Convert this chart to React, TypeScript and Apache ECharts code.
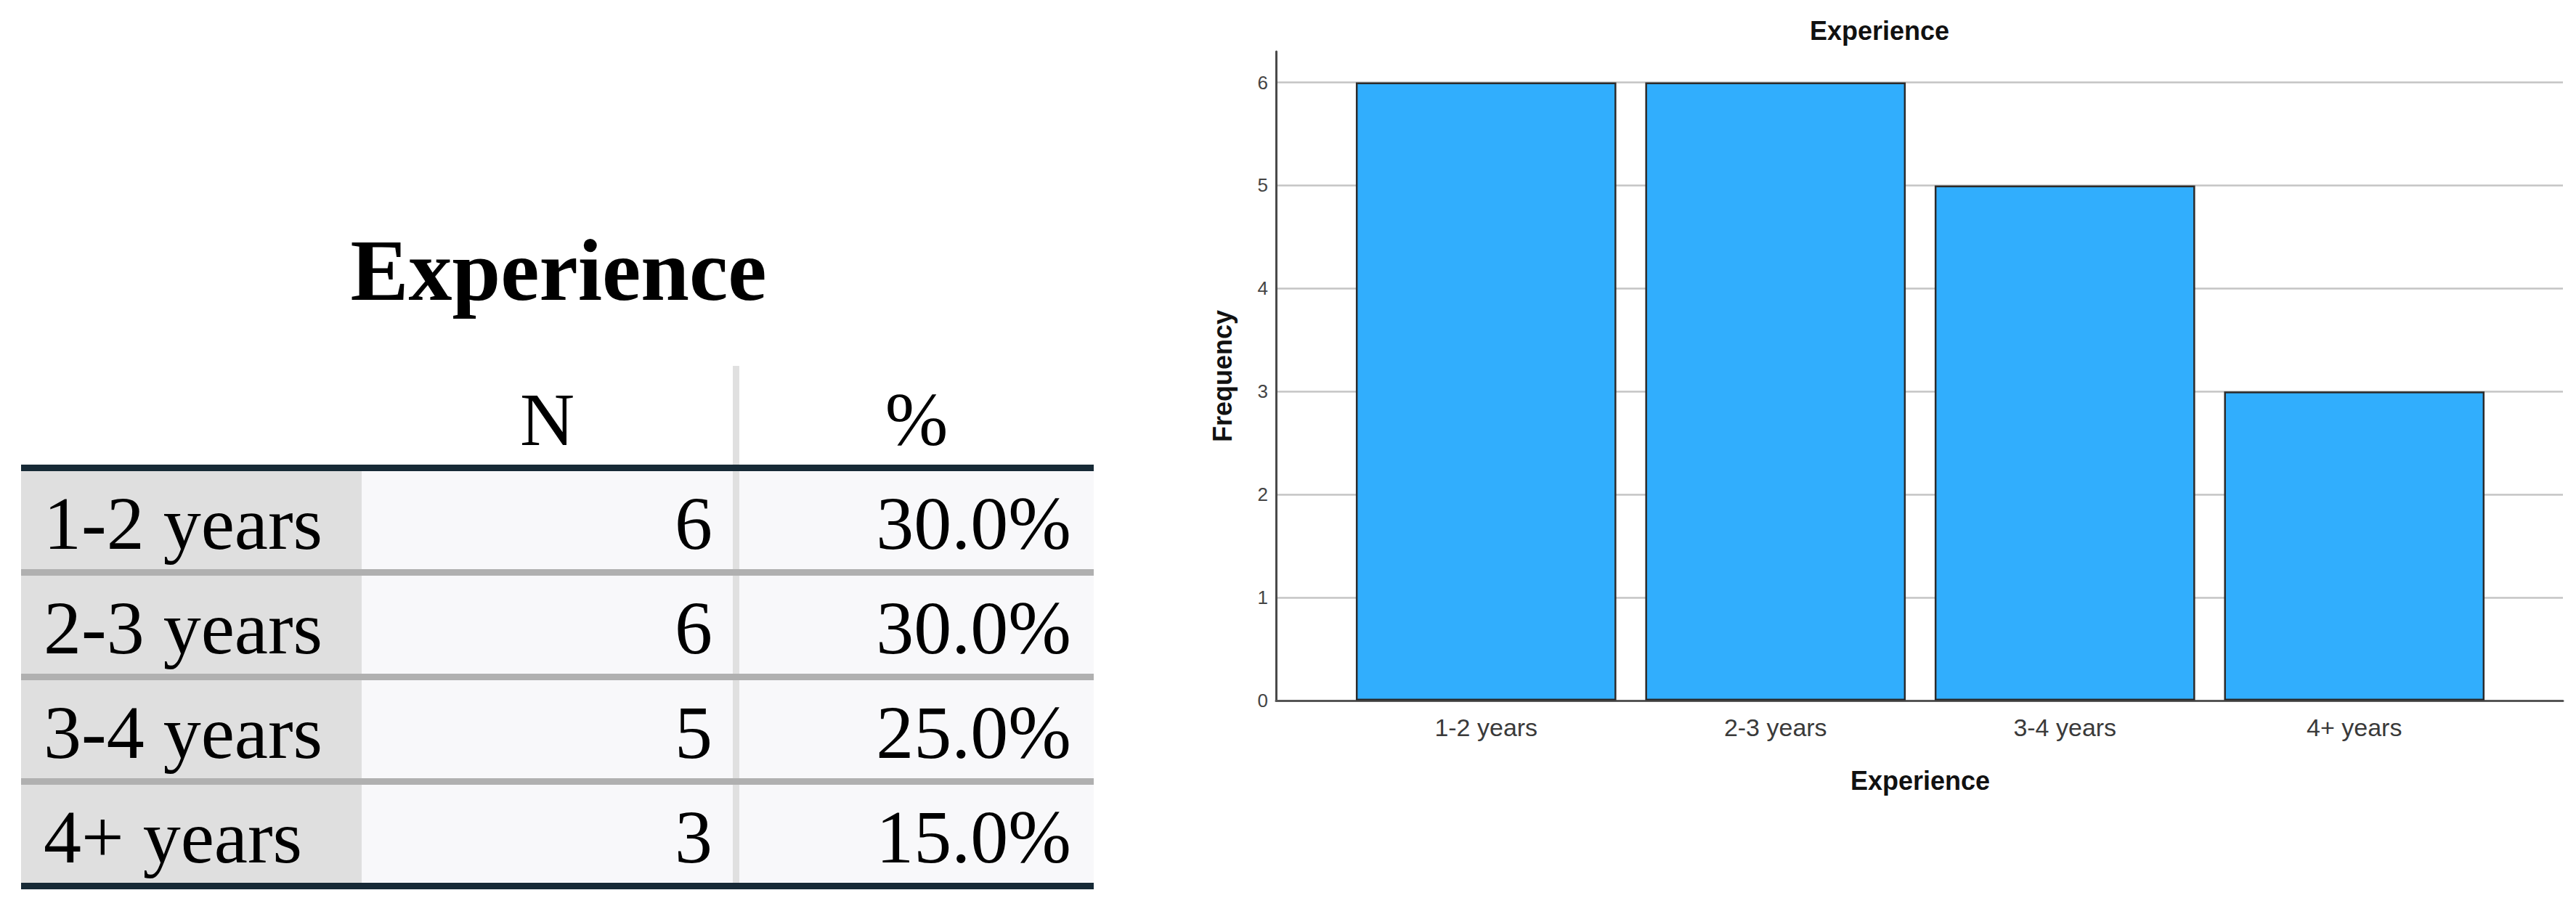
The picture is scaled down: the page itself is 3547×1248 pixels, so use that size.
import React, { useEffect, useRef } from "react";
import * as echarts from "echarts";

// ---- data ----
const categories = ["1-2 years", "2-3 years", "3-4 years", "4+ years"];
const counts = [6, 6, 5, 3];
const percents = [30.0, 30.0, 25.0, 15.0];
const tableHeaders = ["N", "%"];
const tableTitle = "Experience";
const chartTitle = "Experience";
const xAxisTitle = "Experience";
const yAxisTitle = "Frequency";

// ---- layout (pixels) ----
const T = {
  left: 29,
  right: 1506,
  labelColRight: 498,
  sepX: 1009,
  sepW: 9,
  headerLineY: 640,
  rowTop0: 649,
  rowPitch: 144,
  rowH: 135,
  lineH: 9,
  nRight: 981,
  pctRight: 1475,
  labelLeft: 60,
};

function buildTable(): any[] {
  const els: any[] = [];
  const serif = "'Liberation Serif', 'Times New Roman', serif";
  // title
  els.push({
    type: "text",
    x: 769,
    y: 372,
    silent: true,
    style: { text: tableTitle, font: `bold 120px ${serif}`, fill: "#000", align: "center", verticalAlign: "middle" },
  });
  // headers
  const nColCenter = (T.labelColRight + T.sepX) / 2;
  const pColCenter = (T.sepX + T.sepW + T.right) / 2;
  [nColCenter, pColCenter].forEach((cx, i) => {
    els.push({
      type: "text",
      x: cx,
      y: 577,
      silent: true,
      style: { text: tableHeaders[i], font: `104px ${serif}`, fill: "#000", align: "center", verticalAlign: "middle" },
    });
  });
  const nRows = categories.length;
  const bottomY = T.rowTop0 + (nRows - 1) * T.rowPitch + T.rowH;
  // cell backgrounds
  for (let i = 0; i < nRows; i++) {
    const top = T.rowTop0 + i * T.rowPitch;
    els.push({ type: "rect", silent: true, shape: { x: T.left, y: top, width: T.labelColRight - T.left, height: T.rowPitch }, style: { fill: "#dfdfdf" } });
    els.push({ type: "rect", silent: true, shape: { x: T.labelColRight, y: top, width: T.right - T.labelColRight, height: T.rowPitch }, style: { fill: "#f8f8fa" } });
  }
  // vertical separator
  els.push({ type: "rect", silent: true, shape: { x: T.sepX, y: 504, width: T.sepW, height: bottomY + T.lineH - 504 }, style: { fill: "#e0e0e0" } });
  // horizontal lines
  els.push({ type: "rect", silent: true, shape: { x: T.left, y: T.headerLineY, width: T.right - T.left, height: T.lineH }, style: { fill: "#172a36" } });
  for (let i = 0; i < nRows - 1; i++) {
    const y = T.rowTop0 + i * T.rowPitch + T.rowH;
    els.push({ type: "rect", silent: true, shape: { x: T.left, y, width: T.right - T.left, height: T.lineH }, style: { fill: "#b0b0b0" } });
  }
  els.push({ type: "rect", silent: true, shape: { x: T.left, y: bottomY, width: T.right - T.left, height: T.lineH }, style: { fill: "#172a36" } });
  // row texts
  for (let i = 0; i < nRows; i++) {
    const cy = T.rowTop0 + i * T.rowPitch + 71;
    els.push({ type: "text", x: T.labelLeft, y: cy, silent: true, style: { text: categories[i], font: `104px ${serif}`, fill: "#000", align: "left", verticalAlign: "middle" } });
    els.push({ type: "text", x: T.nRight, y: cy, silent: true, style: { text: String(counts[i]), font: `104px ${serif}`, fill: "#000", align: "right", verticalAlign: "middle" } });
    els.push({ type: "text", x: T.pctRight, y: cy, silent: true, style: { text: percents[i].toFixed(1) + "%", font: `104px ${serif}`, fill: "#000", align: "right", verticalAlign: "middle" } });
  }
  return els;
}

export default function App() {
  const ref = useRef<HTMLDivElement>(null);
  useEffect(() => {
    if (!ref.current) return;
    const chart = echarts.init(ref.current, null, { renderer: "svg" });
    const sans = "'Liberation Sans', Arial, sans-serif";
    const yMax = 6.3;
    const gridTop = 71;
    const gridHeight = 894;
    chart.setOption({
      animation: false,
      backgroundColor: "#ffffff",
      textStyle: { fontFamily: sans },
      grid: [
        { left: 1757, top: gridTop, width: 3529 - 1757, height: gridHeight, containLabel: false },
        { left: 1847, top: gridTop, width: 1594, height: gridHeight, containLabel: false },
      ],
      xAxis: [
        {
          gridIndex: 0,
          type: "value",
          min: 0,
          max: 1,
          axisLine: { show: true, lineStyle: { color: "#555555", width: 3 } },
          axisTick: { show: false },
          axisLabel: { show: false },
          splitLine: { show: false },
        },
        {
          gridIndex: 1,
          type: "category",
          data: categories,
          axisLine: { show: false },
          axisTick: { show: false },
          axisLabel: { fontSize: 34, color: "#3a3a3a", margin: 20, fontFamily: sans },
          name: xAxisTitle,
          nameLocation: "middle",
          nameGap: 92,
          nameTextStyle: { fontSize: 36, fontWeight: "bold", color: "#111", fontFamily: sans },
        },
      ],
      yAxis: [
        {
          gridIndex: 0,
          type: "value",
          min: 0,
          max: yMax,
          interval: 1,
          axisLine: { show: true, lineStyle: { color: "#4a4a4a", width: 3 } },
          axisTick: { show: false },
          axisLabel: {
            fontSize: 26,
            color: "#444",
            margin: 11,
            showMaxLabel: false,
            formatter: (v: number) => (Number.isInteger(v) ? String(v) : ""),
          },
          splitLine: {
            show: true,
            showMaxLine: false,
            lineStyle: { color: "#c4c4c4", width: 2.5 },
          },
          name: yAxisTitle,
          nameLocation: "middle",
          nameRotate: 90,
          nameGap: 56,
          nameTextStyle: { fontSize: 36, fontWeight: "bold", color: "#111", fontFamily: sans },
        },
        {
          gridIndex: 1,
          type: "value",
          min: 0,
          max: yMax,
          interval: 1,
          show: false,
          splitLine: { show: false },
        },
      ],
      series: [
        {
          type: "bar",
          xAxisIndex: 1,
          yAxisIndex: 1,
          data: counts,
          barCategoryGap: "10%",
          itemStyle: { color: "#31AEFD", borderColor: "#2b2b2b", borderWidth: 2.5 },
        },
      ],
      graphic: [
        {
          type: "text",
          x: 2588,
          y: 42,
          silent: true,
          style: { text: chartTitle, font: `bold 36px ${sans}`, fill: "#111", align: "center", verticalAlign: "middle" },
        },
        ...buildTable(),
      ],
    });
    return () => chart.dispose();
  }, []);
  return (
    <div
      ref={ref}
      style={{ position: "absolute", left: 0, top: 0, width: 3547, height: 1248, background: "#fff" }}
    />
  );
}
